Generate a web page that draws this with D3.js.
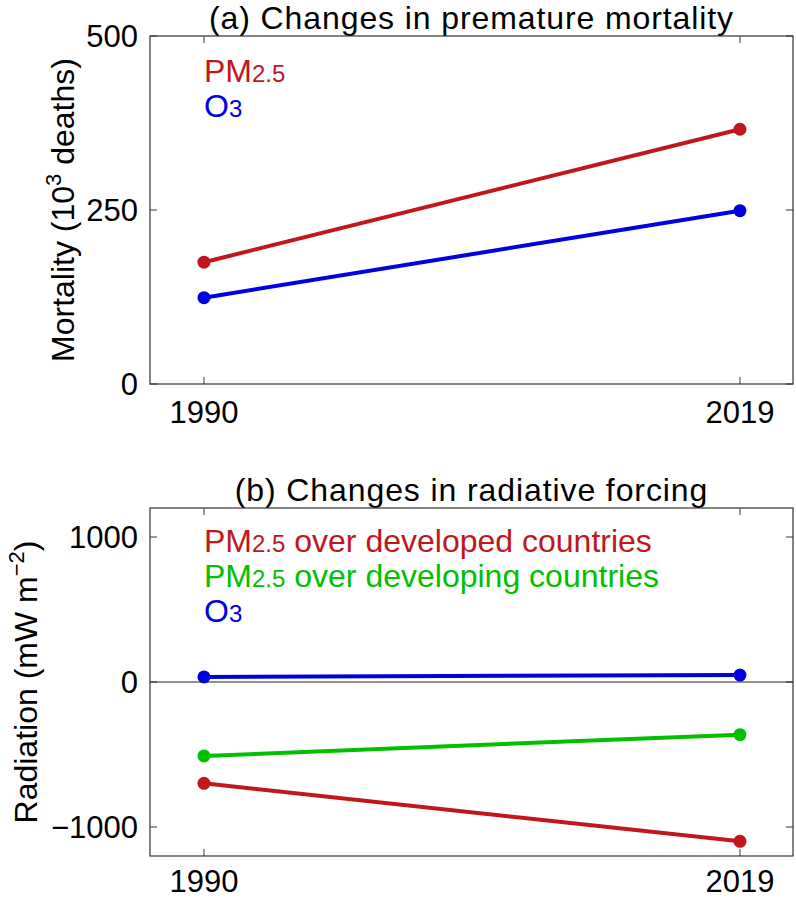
<!DOCTYPE html>
<html>
<head>
<meta charset="utf-8">
<script src="https://cdn.jsdelivr.net/npm/d3@7"></script>
<style>
  body { margin: 0; background: #fff; }
  text { font-family: "Liberation Sans", Arial, sans-serif; }
</style>
</head>
<body>
<div id="chart"></div>
<script>
const years = [1990, 2019];

// panel (a) mortality, 10^3 deaths
const mortPM = [175, 366];
const mortO3 = [124, 249];
const mortTicks = [0, 250, 500];

// panel (b) radiative forcing, mW m-2
const radDeveloped = [-699, -1099];
const radDeveloping = [-510, -363];
const radO3 = [35, 48];
const radTicks = [-1000, 0, 1000];

const red = '#c0161c';
const green = '#00c000';
const blue = '#0000e0';

const width = 796;
const height = 899;

const svg = d3.select('#chart').append('svg')
    .attr('width', width).attr('height', height);

const x = d3.scaleLinear().domain([1987.08, 2021.87]).range([150, 793]);

function panel(opts) {
    const y = d3.scaleLinear().domain(opts.domain).range([opts.bottom, opts.top]);
    const g = svg.append('g');

    g.append('text')
        .attr('x', (x.range()[0] + x.range()[1]) / 2)
        .attr('y', opts.top - 7)
        .attr('text-anchor', 'middle')
        .attr('font-size', 32)
        .attr('letter-spacing', 0.9)
        .text(opts.title);

    // inward ticks on all four sides
    const tl = 7;
    const yt = g.append('g').attr('stroke', '#333').attr('stroke-width', 1);
    opts.ticks.forEach(t => {
        yt.append('line').attr('x1', 150).attr('x2', 150 + tl).attr('y1', y(t)).attr('y2', y(t));
        yt.append('line').attr('x1', 793 - tl).attr('x2', 793).attr('y1', y(t)).attr('y2', y(t));
    });
    years.forEach(t => {
        yt.append('line').attr('x1', x(t)).attr('x2', x(t)).attr('y1', opts.top).attr('y2', opts.top + tl);
        yt.append('line').attr('x1', x(t)).attr('x2', x(t)).attr('y1', opts.bottom - tl).attr('y2', opts.bottom);
    });

    g.selectAll('.ytl').data(opts.ticks).enter().append('text')
        .attr('x', 138).attr('y', d => y(d))
        .attr('dy', '0.35em')
        .attr('text-anchor', 'end')
        .attr('font-size', 31)
        .text(d => d < 0 ? '\u2212' + Math.abs(d) : d);

    g.selectAll('.xtl').data(years).enter().append('text')
        .attr('x', d => x(d)).attr('y', opts.bottom + opts.xlabOff)
        .attr('text-anchor', 'middle')
        .attr('font-size', 31)
        .text(d => d);

    if (opts.zeroLine) {
        g.append('line')
            .attr('x1', 150).attr('x2', 793)
            .attr('y1', y(0)).attr('y2', y(0))
            .attr('stroke', '#222').attr('stroke-width', 1.2);
    }

    const line = d3.line().x((d, i) => x(years[i])).y(d => y(d));
    opts.series.forEach(s => {
        g.append('path').datum(s.values)
            .attr('d', line)
            .attr('fill', 'none')
            .attr('stroke', s.color)
            .attr('stroke-width', 4);
        g.selectAll(null).data(s.values).enter().append('circle')
            .attr('cx', (d, i) => x(years[i]))
            .attr('cy', d => y(d))
            .attr('r', 6.5)
            .attr('fill', s.color);
    });

    g.append('rect')
        .attr('x', 150).attr('y', opts.top)
        .attr('width', 643).attr('height', opts.bottom - opts.top)
        .attr('fill', 'none').attr('stroke', '#333').attr('stroke-width', 1.2);

    // legend as coloured text
    opts.legend.forEach((l, i) => {
        const t = g.append('text')
            .attr('x', 204).attr('y', opts.legendTop + i * 35)
            .attr('font-size', 32)
            .attr('fill', l.color);
        t.append('tspan').text(l.main);
        t.append('tspan').attr('font-size', 24).text(l.sub);
        if (l.rest) t.append('tspan').text(l.rest);
    });

    // y axis label
    const yl = g.append('text')
        .attr('transform', `translate(${opts.labelX},${(opts.top + opts.bottom) / 2}) rotate(-90)`)
        .attr('text-anchor', 'middle')
        .attr('font-size', 32);
    opts.label(yl);
}

panel({
    title: '(a) Changes in premature mortality',
    top: 36, bottom: 384,
    domain: [0, 500],
    ticks: mortTicks,
    labelX: 74,
    legendTop: 82,
    xlabOff: 39,
    series: [
        {values: mortPM, color: red},
        {values: mortO3, color: blue}
    ],
    legend: [
        {main: 'PM', sub: '2.5', color: red},
        {main: 'O', sub: '3', color: blue}
    ],
    label: t => {
        t.append('tspan').text('Mortality (10');
        t.append('tspan').attr('font-size', 22).attr('dy', -13).text('3');
        t.append('tspan').attr('dy', 13).text(' deaths)');
    }
});

panel({
    title: '(b) Changes in radiative forcing',
    top: 508, bottom: 856,
    domain: [-1200, 1200],
    ticks: radTicks,
    labelX: 37,
    legendTop: 552,
    xlabOff: 36,
    zeroLine: true,
    series: [
        {values: radO3, color: blue},
        {values: radDeveloping, color: green},
        {values: radDeveloped, color: red}
    ],
    legend: [
        {main: 'PM', sub: '2.5', rest: ' over developed countries', color: red},
        {main: 'PM', sub: '2.5', rest: ' over developing countries', color: green},
        {main: 'O', sub: '3', color: blue}
    ],
    label: t => {
        t.append('tspan').text('Radiation (mW m');
        t.append('tspan').attr('font-size', 22).attr('dy', -13).text('\u22122');
        t.append('tspan').attr('dy', 13).text(')');
    }
});
</script>
</body>
</html>
